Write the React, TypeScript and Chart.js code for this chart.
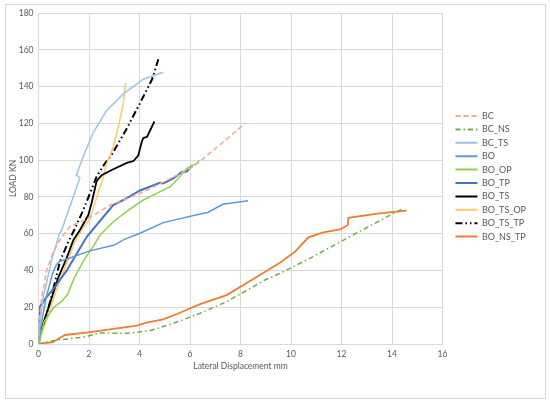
import React, { useEffect, useRef } from 'react';
import { Chart, registerables } from 'chart.js';

Chart.register(...registerables);

// load (kN) vs lateral displacement (mm)
const bcX = [0, 0.02, 0.13, 0.32, 0.55, 0.78, 0.92, 1.25, 1.77, 2.3, 2.83, 3.5, 4.2, 4.94, 5.5, 6.13, 7.2, 8.18];
const bcY = [0, 11, 25.7, 40, 49, 55, 58, 64, 67, 71, 75.5, 79, 83, 88, 92, 96.4, 108.5, 120];

const bcNsX = [0, 0.45, 1.0, 1.9, 2.0, 2.43, 3.5, 4.4, 5.34, 6.4, 7.45, 8.97, 9.56, 10.75, 12.2, 14.05, 14.38];
const bcNsY = [0, 1.6, 2.5, 4, 4.5, 6, 5.8, 7.2, 11.2, 16.7, 23, 34.8, 38.4, 46.6, 57.4, 71, 73.2];

const bcTsX = [0, 0.05, 0.19, 0.52, 0.83, 0.92, 1.64, 1.5, 1.77, 2.17, 2.7, 3.36, 4.15, 4.94];
const bcTsY = [0, 11, 25.7, 45.6, 60, 62, 90.4, 91.8, 102, 115, 127, 136, 144, 147.8];

const boX = [0, 0.1, 0.3, 0.55, 0.7, 0.85, 1.2, 2.0, 3.0, 3.4, 4.02, 4.94, 6.4, 6.7, 7.3, 8.3];
const boY = [0, 10, 25, 38, 43, 45, 46.5, 50.5, 53.8, 56.9, 60.2, 66, 70.7, 71.5, 76, 77.9];

const boOpX = [0, 0.22, 0.61, 0.9, 1.14, 1.41, 1.8, 2.2, 2.43, 2.96, 3.56, 4.15, 5.08, 5.21, 5.6, 5.87, 6.27, 6.37];
const boOpY = [0, 12, 20, 23, 26.6, 35.8, 45.6, 53.8, 59.2, 66.5, 72.8, 78.3, 84.6, 85.5, 91, 95.5, 98.2, 100];

const boTpX = [0, 0.06, 0.28, 0.59, 1.12, 1.91, 2.96, 3.36, 4.02, 4.81, 4.94, 5.34, 5.67, 5.87, 6.1];
const boTpY = [0, 20.3, 24.8, 30, 40, 58.3, 75.5, 78.3, 83.5, 87.7, 87.3, 90, 93.6, 93.8, 97.3];

const boTsX = [0, 0.06, 0.45, 0.78, 1.12, 1.38, 1.64, 1.97, 2.1, 2.3, 2.5, 2.96, 3.5, 3.76, 3.95, 4.09, 4.15, 4.3, 4.59];
const boTsY = [0, 6, 22, 36, 47, 56.5, 62, 70, 76.4, 88.5, 91.8, 95, 98.5, 99.5, 102.5, 110, 112, 112.7, 121];

const boTsOpX = [0, 0.12, 0.35, 0.72, 1.15, 1.42, 1.75, 2.04, 2.24, 2.5, 2.7, 2.96, 3.16, 3.36, 3.45];
const boTsOpY = [0, 5, 14, 30, 45, 55, 63, 68, 77, 88, 98, 107, 118, 131, 142];

const boTsTpX = [0, 0.2, 0.5, 0.85, 1.18, 1.45, 1.77, 2.04, 2.3, 2.63, 2.9, 3.49, 4.02, 4.5, 4.75];
const boTsTpY = [0, 10, 25, 45, 55.5, 63, 72.8, 82, 91, 98.2, 103, 117, 131, 144, 155];

const boNsTpX = [0, 0.57, 0.8, 1.05, 1.9, 3.1, 3.9, 4.28, 4.94, 5.6, 6.4, 7.45, 8.44, 9.56, 10.16, 10.69, 11.28, 11.94, 12.25, 12.27, 13.5, 14.58];
const boNsTpY = [0, 1, 3, 4.9, 6.2, 8.5, 10, 11.6, 13.4, 17, 21.7, 26.6, 34.8, 44.2, 50.2, 58, 60.7, 62.3, 64.7, 68.6, 71, 72.5];

const FONT = 'Lato, "Open Sans", sans-serif';
const GRID = '#d9d9d9';
const TEXT = '#595959';

const pts = (xs: number[], ys: number[]) => xs.map((x, i) => ({ x, y: ys[i] }));

// put the legend block where the reference has it (first row centred at y=116)
const legendPlace = {
  id: 'legendPlace',
  afterLayout(chart: any) {
    const lg = chart.legend;
    if (!lg || !lg.columnSizes || !lg.columnSizes.length) return;
    const pad = lg.options.labels.padding;
    const y0 = 116 - 4.5;
    lg.top = y0 - pad - 2;
    lg.bottom = y0 + lg.columnSizes[0].height + 2;
  },
};

export default function App() {
  const canvasRef = useRef<HTMLCanvasElement>(null);

  useEffect(() => {
    document.body.style.margin = '0';
    if (!canvasRef.current) return;

    const line = (label: string, xs: number[], ys: number[], color: string, width: number, dash: number[] = []) => ({
      label,
      data: pts(xs, ys),
      borderColor: color,
      backgroundColor: color,
      borderWidth: width,
      borderDash: dash,
      pointRadius: 0,
      tension: 0,
      fill: false,
    });

    const chart = new Chart(canvasRef.current, {
      type: 'line',
      data: {
        datasets: [
          line('BC', bcX, bcY, '#f4a98c', 1.5, [5, 3]),
          line('BC_NS', bcNsX, bcNsY, '#70ad47', 1.5, [5, 3, 1.5, 3]),
          line('BC_TS', bcTsX, bcTsY, '#9dc3e6', 1.5),
          line('BO', boX, boY, '#5b9bd5', 1.5),
          line('BO_OP', boOpX, boOpY, '#92d050', 1.5),
          line('BO_TP', boTpX, boTpY, '#4472c4', 2),
          line('BO_TS', boTsX, boTsY, '#000000', 1.8),
          line('BO_TS_OP', boTsOpX, boTsOpY, '#ffc966', 1.5),
          line('BO_TS_TP', boTsTpX, boTsTpY, '#000000', 2, [7, 3, 1.5, 3, 1.5, 3]),
          line('BO_NS_TP', boNsTpX, boNsTpY, '#ed7d31', 1.8),
        ],
      },
      options: {
        animation: false,
        responsive: false,
        devicePixelRatio: 1,
        layout: { padding: { left: 6, top: 13, right: 14, bottom: 32 } },
        plugins: {
          legend: {
            position: 'right',
            labels: {
              usePointStyle: true,
              pointStyle: 'line',
              pointStyleWidth: 22,
              boxHeight: 9,
              padding: 4.4,
              color: TEXT,
              font: { family: FONT, size: 9 },
              // point style items lose the dataset dash, so copy it back
              generateLabels: (c: any) => {
                const items = Chart.defaults.plugins.legend.labels.generateLabels(c);
                items.forEach((it: any) => {
                  const ds: any = c.data.datasets[it.datasetIndex];
                  it.lineDash = ds.borderDash;
                  it.lineWidth = Math.max(2, ds.borderWidth);
                  it.strokeStyle = ds.borderColor;
                });
                return items;
              },
            },
          },
          tooltip: { enabled: false },
        },
        scales: {
          x: {
            type: 'linear',
            min: 0,
            max: 16,
            ticks: { stepSize: 2, color: TEXT, padding: 5, font: { family: FONT, size: 8.5 } },
            grid: { color: GRID, drawTicks: false },
            border: { color: GRID },
            title: { display: true, text: 'Lateral Displacement mm', color: TEXT, padding: { top: 2, bottom: 0 }, font: { family: FONT, size: 8.5 } },
            afterFit: (s: any) => { s.height = 27; },
          },
          y: {
            min: 0,
            max: 180,
            ticks: { stepSize: 20, color: TEXT, padding: 5, font: { family: FONT, size: 8.5 } },
            grid: { color: GRID, drawTicks: false },
            border: { color: GRID },
            title: { display: true, text: 'LOAD KN', color: TEXT, padding: { top: 2, bottom: 2 }, font: { family: FONT, size: 8.5 } },
            afterFit: (s: any) => { s.width = 32.5; },
          },
          gap: {
            type: 'linear',
            position: 'right',
            display: true,
            min: 0,
            max: 1,
            grid: { display: false },
            border: { display: false },
            ticks: { display: false },
            afterFit: (s: any) => { s.width = 8.5; },
          },
        },
      },
      plugins: [legendPlace],
    } as any);

    return () => chart.destroy();
  }, []);

  return (
    <div style={{ position: 'relative', width: 550, height: 403, background: '#fff' }}>
      <canvas ref={canvasRef} width={550} height={403} style={{ display: 'block' }} />
      <div
        style={{
          position: 'absolute',
          left: 5,
          top: 4,
          width: 539,
          height: 393,
          border: '1px solid #d9d9d9',
          pointerEvents: 'none',
        }}
      />
    </div>
  );
}
